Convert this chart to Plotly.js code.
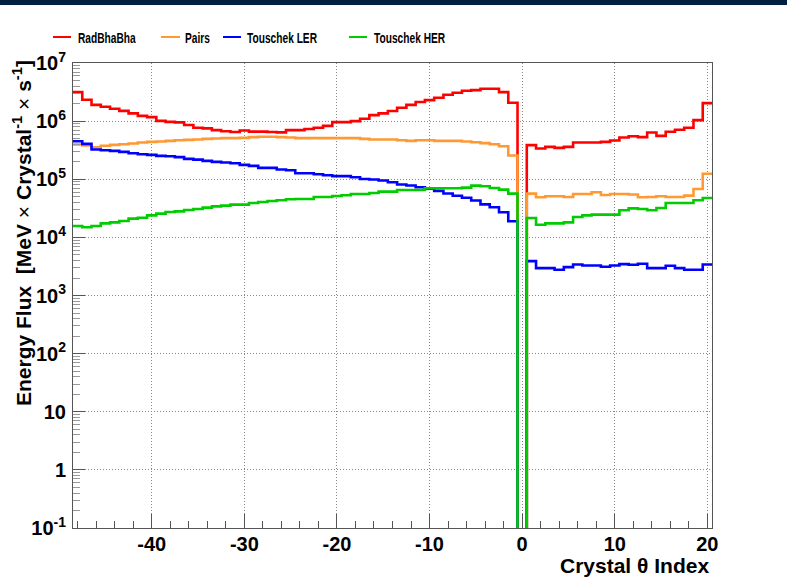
<!DOCTYPE html>
<html>
<head>
<meta charset="utf-8">
<script src="https://cdn.plot.ly/plotly-3.0.1.min.js"></script>
<style>
  html, body { margin: 0; padding: 0; background: #fff; }
  #bar { position: absolute; left: 0; top: 0; width: 787px; height: 5px; background: #00203f; z-index: 5; }
  #chart { position: absolute; left: 0; top: 0; width: 787px; height: 585px; }
</style>
</head>
<body>
<div id="chart"></div>
<div id="bar"></div>
<script>
// Bin centres (crystal theta index)
const bins = [-48,-47,-46,-45,-44,-43,-42,-41,-40,-39,-38,-37,-36,-35,-34,-33,-32,-31,-30,-29,
  -28,-27,-26,-25,-24,-23,-22,-21,-20,-19,-18,-17,-16,-15,-14,-13,-12,-11,-10,-9,
  -8,-7,-6,-5,-4,-3,-2,-1,0,1,2,3,4,5,6,7,8,9,10,11,12,13,14,15,16,17,18,19,20];

const radBhaBha = [3.16e6,2.33e6,1.9e6,1.77e6,1.63e6,1.5e6,1.36e6,1.23e6,1.17e6,1.01e6,
  9.7e5,9.5e5,8.6e5,7.7e5,7.5e5,7.0e5,6.7e5,6.5e5,6.9e5,6.6e5,
  6.6e5,6.5e5,6.4e5,7.0e5,7.0e5,7.3e5,7.7e5,8.3e5,9.6e5,9.6e5,
  1.0e6,1.1e6,1.27e6,1.36e6,1.49e6,1.7e6,1.9e6,2.13e6,2.3e6,2.52e6,
  2.84e6,3.08e6,3.34e6,3.42e6,3.6e6,3.6e6,3.16e6,2.07e6,0,
  3.86e5,3.38e5,3.6e5,3.47e5,3.6e5,4.29e5,4.29e5,4.29e5,4.4e5,4.64e5,
  5.23e5,5.5e5,5.3e5,6.38e5,5.58e5,6.55e5,7.1e5,7.68e5,1.04e6,2.04e6];

const pairs = [3.96e5,3.8e5,3.56e5,3.76e5,3.91e5,4.0e5,4.12e5,4.29e5,4.4e5,4.46e5,
  4.58e5,4.7e5,4.76e5,4.83e5,4.96e5,5.02e5,5.1e5,5.1e5,5.16e5,5.3e5,
  5.37e5,5.37e5,5.3e5,5.23e5,5.1e5,5.1e5,5.1e5,5.1e5,5.1e5,5.1e5,
  5.1e5,4.96e5,4.83e5,4.83e5,4.83e5,4.7e5,4.58e5,4.7e5,4.7e5,4.58e5,
  4.58e5,4.58e5,4.46e5,4.34e5,4.18e5,4.0e5,3.7e5,2.56e5,0,
  5.66e4,4.9e4,5.1e4,5.1e4,4.96e4,5.58e4,5.58e4,5.97e4,5.37e4,5.58e4,
  5.58e4,5.45e4,4.9e4,4.96e4,5.1e4,4.96e4,4.96e4,5.22e4,6.8e4,1.24e5];

const touschekLER = [4.5e5,4.06e5,3.25e5,3.16e5,3.08e5,2.96e5,2.8e5,2.7e5,2.63e5,2.52e5,
  2.49e5,2.4e5,2.24e5,2.18e5,2.07e5,1.99e5,1.94e5,1.89e5,1.77e5,1.7e5,
  1.57e5,1.57e5,1.47e5,1.43e5,1.27e5,1.27e5,1.22e5,1.17e5,1.13e5,1.13e5,
  1.08e5,1.01e5,9.9e4,9.5e4,8.9e4,8.1e4,7.8e4,7.3e4,6.9e4,6.3e4,
  5.7e4,5.2e4,4.8e4,4.3e4,3.7e4,3.3e4,2.7e4,1.89e4,0,
  3.91e3,2.96e3,2.96e3,2.77e3,3.08e3,3.42e3,3.29e3,3.29e3,3.12e3,3.29e3,
  3.47e3,3.38e3,3.52e3,2.96e3,2.96e3,3.25e3,2.96e3,2.77e3,2.77e3,3.42e3];

const touschekHER = [1.57e4,1.49e4,1.57e4,1.74e4,1.81e4,1.91e4,2.1e4,2.18e4,2.39e4,2.56e4,
  2.73e4,2.8e4,2.96e4,3.08e4,3.25e4,3.42e4,3.52e4,3.66e4,3.66e4,3.91e4,
  4.06e4,4.23e4,4.34e4,4.52e4,4.58e4,4.58e4,4.95e4,4.95e4,5.16e4,5.3e4,
  5.58e4,5.58e4,5.8e4,6.12e4,6.12e4,6.54e4,6.54e4,6.54e4,7.0e4,7.0e4,
  7.0e4,7.0e4,7.18e4,7.77e4,7.57e4,7.08e4,6.63e4,5.66e4,0,
  2.15e4,1.65e4,1.74e4,1.74e4,1.81e4,2.24e4,2.39e4,2.46e4,2.46e4,2.46e4,
  2.92e4,3.16e4,3.08e4,2.92e4,3.2e4,3.91e4,3.91e4,3.91e4,4.34e4,4.76e4];

const seriesNames = ['RadBhaBha', 'Pairs', 'Touschek LER', 'Touschek HER'];
const seriesColors = ['#ff0000', '#ff9933', '#0000ff', '#00cc00'];
const seriesData = [radBhaBha, pairs, touschekLER, touschekHER];

const xTickVals = [-40, -30, -20, -10, 0, 10, 20];
const xTickText = ['-40', '-30', '-20', '-10', '0', '10', '20'];
const yTickVals = [0.1, 1, 10, 100, 1e3, 1e4, 1e5, 1e6, 1e7];
const yTickText = ['10<sup>-1</sup>', '1', '10', '10<sup>2</sup>', '10<sup>3</sup>',
  '10<sup>4</sup>', '10<sup>5</sup>', '10<sup>6</sup>', '10<sup>7</sup>'];

// Empty bins (0) sit below the log axis: draw them at a floor value under the range
const FLOOR = 1e-3;
function stepTrace(vals, name, color) {
  const x = bins.map(c => c - 0.5);
  x.push(bins[bins.length - 1] + 0.5);
  const y = vals.map(v => (v > 0 ? v : FLOOR));
  y.push(y[y.length - 1]);
  return {
    x: x, y: y, name: name, type: 'scatter', mode: 'lines',
    line: { shape: 'hv', color: color, width: 2.6 },
    showlegend: false, hoverinfo: 'skip'
  };
}

const traces = seriesData.map((d, i) => stepTrace(d, seriesNames[i], seriesColors[i]));

// Pixel -> paper helpers for legend/titles
const L = 73, R = 75, T = 63, B = 57, W = 787, H = 585;
const PW = W - L - R, PH = H - T - B;
const px = x => (x - L) / PW;
const py = y => (H - B - y) / PH;

const legendPos = [[53, 71, 76], [161, 180, 183], [223, 241, 245], [349, 367, 372]];
const shapes = [];
const annotations = [];
legendPos.forEach((p, i) => {
  shapes.push({ type: 'line', xref: 'paper', yref: 'paper', x0: px(p[0]), x1: px(p[1]),
    y0: py(37), y1: py(37), line: { color: seriesColors[i], width: 2 } });
  annotations.push({ xref: 'paper', yref: 'paper', x: px(p[2]), y: py(37), xanchor: 'left',
    yanchor: 'middle', showarrow: false, text: seriesNames[i], align: 'left',
    font: { family: 'Liberation Sans, Arial', size: 15, weight: 700, color: '#000' } });
});

annotations.push({ xref: 'paper', yref: 'paper', x: px(22), y: py(58), xanchor: 'center', yanchor: 'top',
  textangle: -90, showarrow: false,
  text: 'Energy Flux  [MeV <span style="font-weight:400">×</span> Crystal<sup>-1</sup> <span style="font-weight:400">×</span> s<sup>-1</sup>]',
  font: { family: 'Liberation Sans, Arial', size: 21, weight: 700, color: '#000' } });
annotations.push({ xref: 'paper', yref: 'paper', x: px(711), y: py(565), xanchor: 'right', yanchor: 'middle',
  showarrow: false, text: 'Crystal θ Index',
  font: { family: 'Liberation Sans, Arial', size: 21, weight: 700, color: '#000' } });

const tickFont = { family: 'Liberation Sans, Arial', size: 20, weight: 700, color: '#000' };
const gridDash = '1px,2px';

const layout = {
  width: W, height: H,
  margin: { l: L, r: R, t: T, b: B, pad: 0 },
  paper_bgcolor: '#fff', plot_bgcolor: '#fff',
  showlegend: false,
  xaxis: {
    range: [-48.5, 20.5], tickmode: 'array', tickvals: xTickVals, ticktext: xTickText,
    ticks: 'inside', ticklen: 14, tickcolor: '#555', tickwidth: 1,
    showline: true, linecolor: '#555', linewidth: 1, mirror: true,
    showgrid: true, gridcolor: '#888', griddash: gridDash, gridwidth: 1,
    zeroline: false, tickfont: tickFont, ticklabelstandoff: -2,
    minor: { tick0: 0, dtick: 2, ticks: 'inside', ticklen: 7, tickcolor: '#555', showgrid: false }
  },
  yaxis: {
    type: 'log', range: [-1, 7], tickmode: 'array', tickvals: yTickVals, ticktext: yTickText,
    ticks: 'inside', ticklen: 12, tickcolor: '#555', tickwidth: 1,
    showline: true, linecolor: '#555', linewidth: 1, mirror: true,
    showgrid: true, gridcolor: '#888', griddash: gridDash, gridwidth: 1,
    zeroline: false, tickfont: tickFont, ticklabelstandoff: 2,
    minor: { dtick: 'D1', ticks: 'inside', ticklen: 7, tickcolor: '#999', showgrid: false }
  },
  shapes: shapes,
  annotations: annotations
};

Plotly.newPlot('chart', traces, layout, { staticPlot: true, displayModeBar: false }).then(gd => {
  // condensed legend lettering, as in the reference
  const texts = gd.querySelectorAll('.annotation .annotation-text');
  for (let i = 0; i < 4 && i < texts.length; i++) {
    const t = texts[i];
    t.style.transformBox = 'fill-box';
    t.style.transformOrigin = 'left center';
    t.style.transform = 'scaleX(0.68)';
  }
});
</script>
</body>
</html>
